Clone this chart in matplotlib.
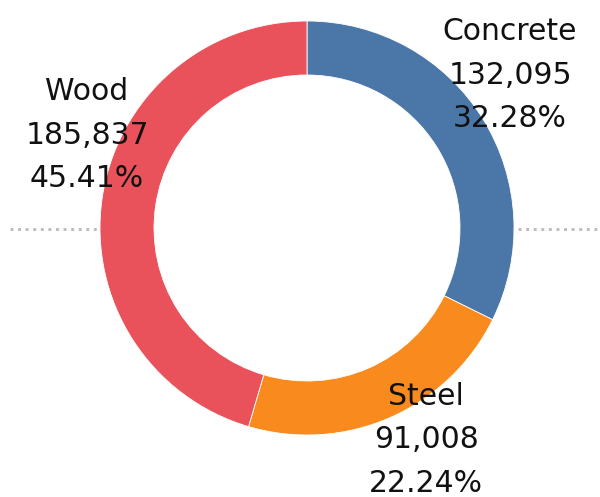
import matplotlib
matplotlib.use("Agg")
import matplotlib.pyplot as plt
from matplotlib.patches import Circle

# Data
categories = ["Concrete", "Steel", "Wood"]
values = [132095, 91008, 185837]
pct_labels = ["32.28%", "22.24%", "45.41%"]
colors = ["#4a76a8", "#f98a1d", "#e9525a"]

W, H = 600, 497
fig = plt.figure(figsize=(W / 100, H / 100), dpi=100)
ax = fig.add_axes([0, 0, 1, 1])

cx, cy, R, ring = 307, H - 228, 207, 54

# dotted reference line behind the donut
ax.axhline(H - 229, xmin=10 / W, xmax=598 / W, color="#bdbdbd",
           linestyle=(0, (1, 1.6)), lw=2.1, zorder=0)
# white hole hides the line inside the ring
ax.add_patch(Circle((cx, cy), R - ring + 1, facecolor="white", edgecolor="none", zorder=0.5))

ax.pie(values, colors=colors, startangle=90, counterclock=False,
       radius=R, center=(cx, cy),
       wedgeprops=dict(width=ring, edgecolor="white", linewidth=0.6, zorder=1),
       frame=True)

# labels
label_pos = {"Concrete": (510, H - 75), "Steel": (426, H - 440), "Wood": (87, H - 135)}
for cat, val, pct in zip(categories, values, pct_labels):
    x, y = label_pos[cat]
    ax.text(x, y, f"{cat}\n{val:,}\n{pct}", ha="center", va="center",
            fontsize=21.5, linespacing=1.62, color="#111111",
            family=["DejaVu Sans"], zorder=5)

ax.set_xlim(0, W)
ax.set_ylim(0, H)
ax.set_aspect("equal")
ax.axis("off")

fig.savefig("out.png", dpi=100, facecolor="white")
